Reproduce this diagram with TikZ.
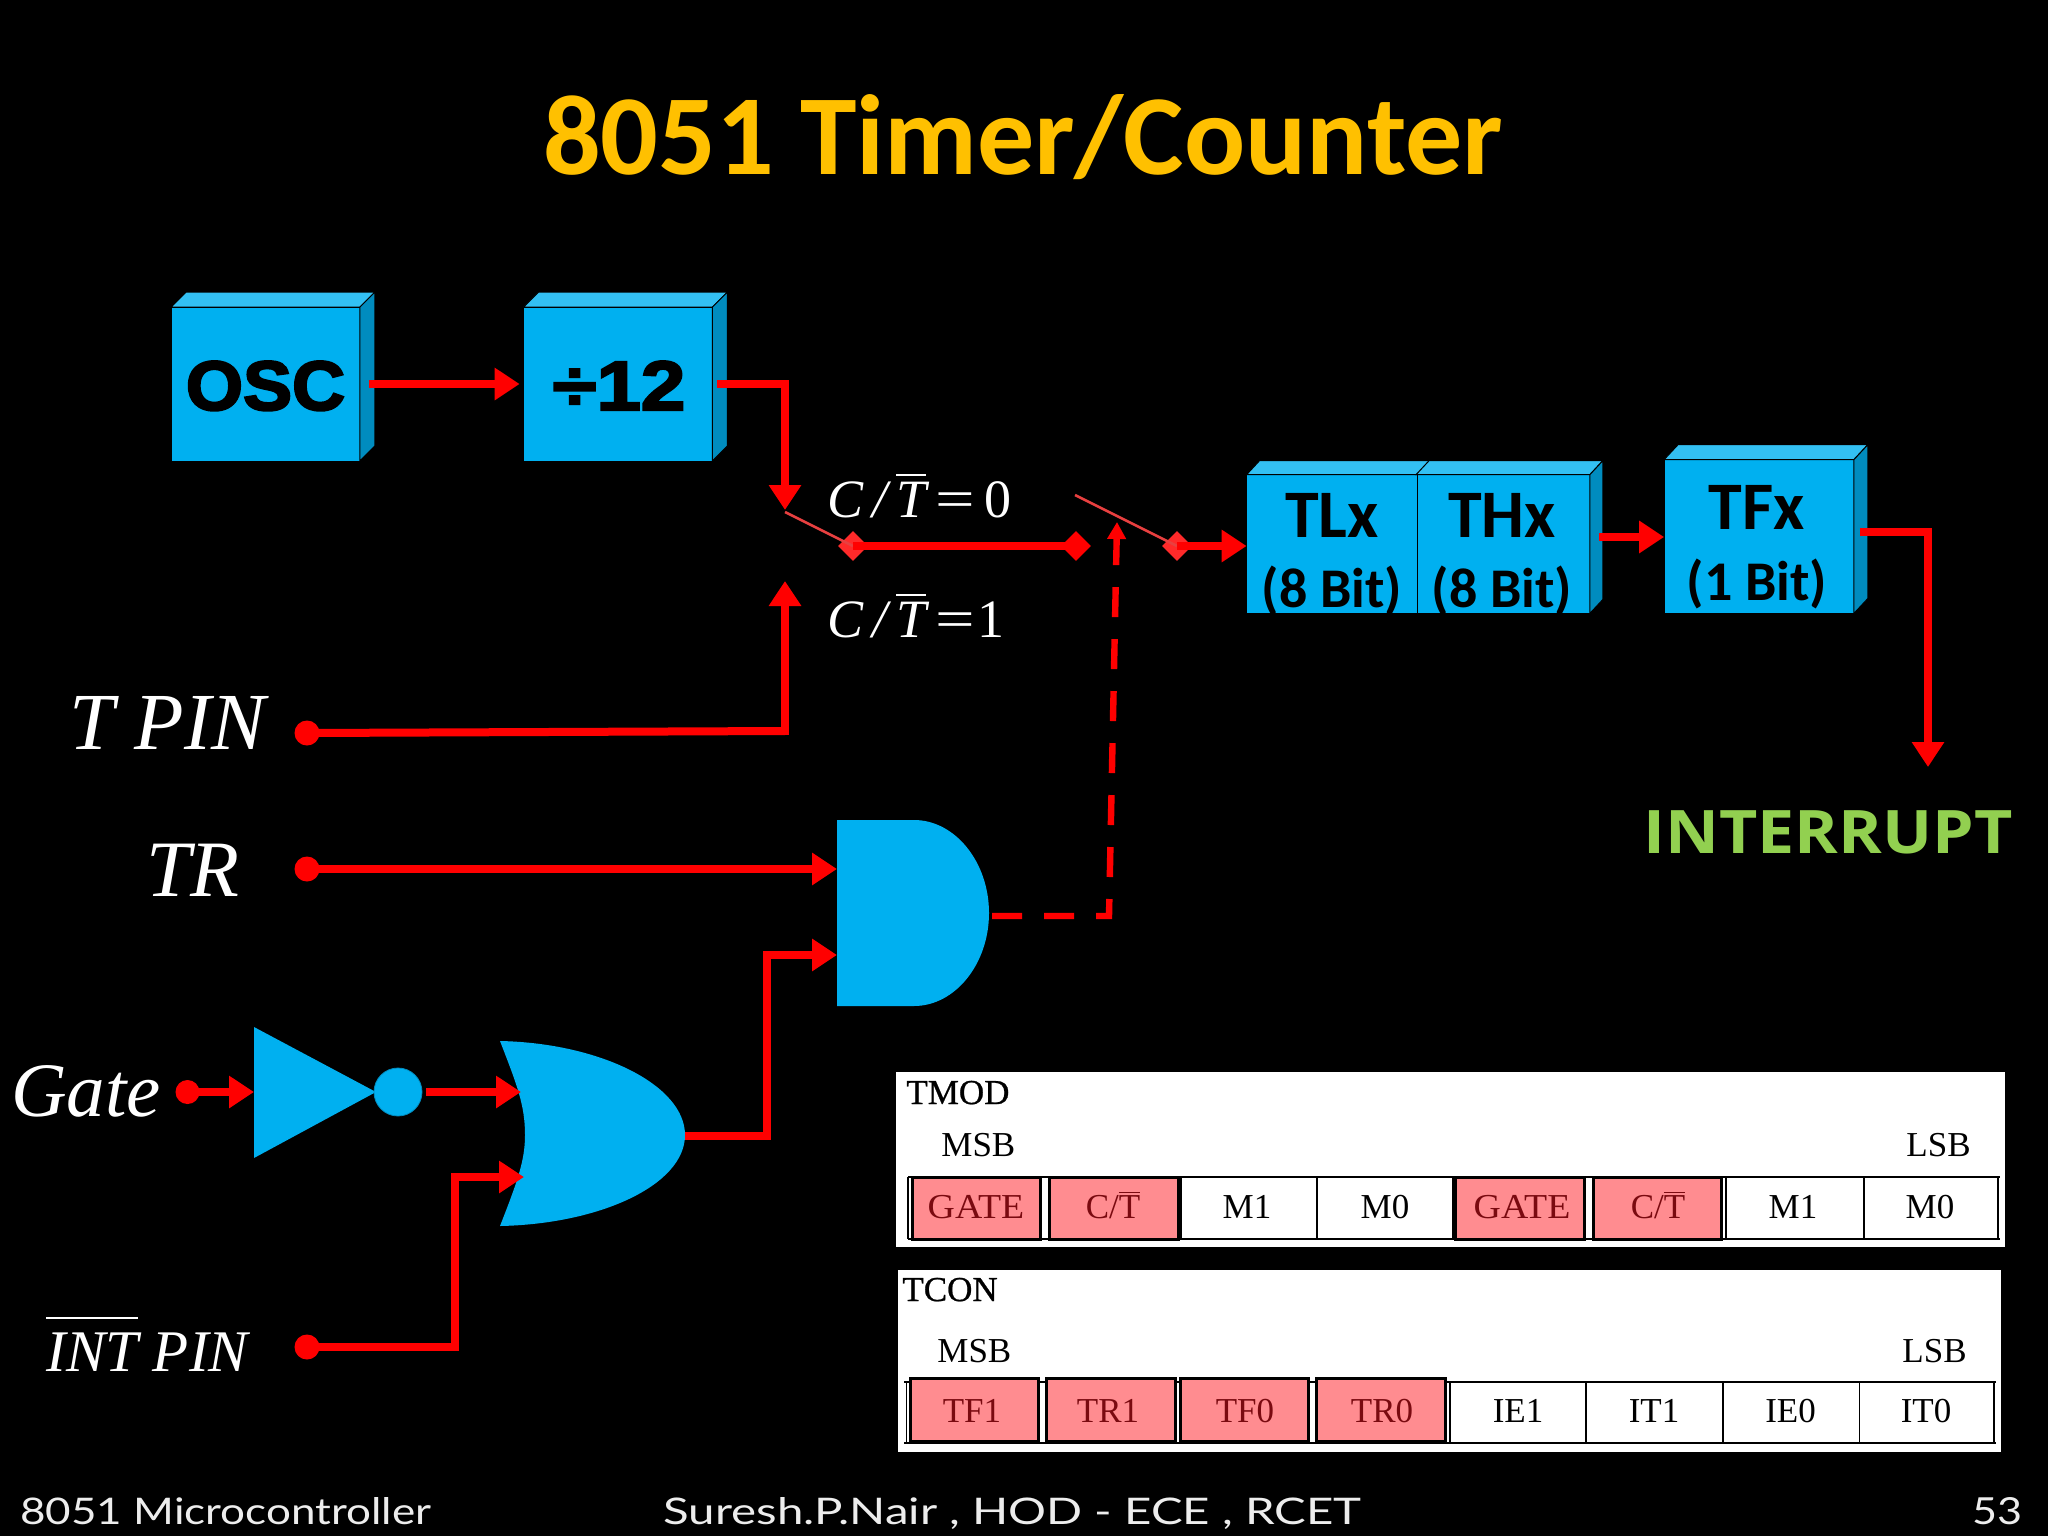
\documentclass[tikz,border=0pt]{standalone}
\usepackage{fontspec}
\usepackage{graphicx}
\setmainfont{Liberation Serif}
\newfontfamily\carl{Carlito}[BoldFont=Carlito Bold]
\newfontfamily\heavy{Liberation Sans Bold}[FakeBold=3]
\newfontfamily\opens{Open Sans}
\newfontfamily\foot{Lato}
\newfontfamily\regheavy{Liberation Serif}[FakeBold=0.7]
\usetikzlibrary{arrows.meta,shapes.geometric,calc}
\definecolor{boxblue}{HTML}{00B0F0}
\definecolor{boxtop}{HTML}{33C0F3}
\definecolor{boxside}{HTML}{008CBF}
\definecolor{wirered}{HTML}{FF0000}
\definecolor{swline}{HTML}{E84040}
\definecolor{swdot}{HTML}{FF2A2A}
\definecolor{cellred}{HTML}{FF8C90}
\definecolor{celltext}{HTML}{7A0A10}
\definecolor{titlegold}{HTML}{FFC000}
\definecolor{intgreen}{HTML}{92D050}
\newcommand{\ovr}[3]{\mbox{\vbox{\hrule height #2\kern #3\hbox{#1}}}}
\newcommand{\cellbox}[5]{\draw[#5] (#1,#3) rectangle (#2,#4);}
\newcommand{\wideeq}{{\upshape\scalebox{1.3}[1]{=}}}
\tikzset{
  x=0.5pt,y=-0.5pt,
  blockface/.style={rectangle,fill=boxblue,inner sep=0pt,draw=none},
  edge3d/.style={draw=black,line width=0.5pt},
  wire/.style={draw=wirered,line width=4pt,line join=miter},
  arrowwire/.style={wire,-{Triangle[length=12.5pt,width=15.5pt]}},
  swthin/.style={draw=swline,line width=1.3pt},
  pindot/.style={circle,fill=wirered,inner sep=0pt,minimum size=12.5pt},
  contact/.style={diamond,fill=#1,inner sep=0pt,minimum width=15pt,minimum height=15pt},
  txt/.style={inner sep=0pt,anchor=base west,text=white},
  pinlabel/.style={txt,font=\itshape\fontsize{40}{40}\selectfont},
  eqlabel/.style={txt,font=\itshape\fontsize{27}{27}\selectfont},
  blocktxt/.style={inner sep=0pt,anchor=base,text=black,font=\carl\bfseries\fontsize{34}{34}\selectfont},
  bittxt/.style={inner sep=0pt,anchor=base,text=black,font=\carl\bfseries\fontsize{28}{28}\selectfont},
  regtxt/.style={inner sep=0pt,anchor=base,text=black,font=\fontsize{17.5}{18}\selectfont},
  regred/.style={regtxt,text=celltext},
  reghead/.style={inner sep=0pt,anchor=base west,text=black,font=\fontsize{17.5}{18}\selectfont},
  footer/.style={inner sep=0pt,anchor=base west,text=white!93!black,font=\foot\fontsize{17}{17}\selectfont},
  regline/.style={draw=black,line width=0.7pt},
  redcell/.style={draw=black,line width=1.5pt,fill=cellred}
}
\begin{document}
\begin{tikzpicture}
\path[use as bounding box,fill=black] (0,0) rectangle (2048,1536);

% Title
\node[inner sep=0pt,anchor=base,text=titlegold,font=\carl\bfseries\fontsize{57}{57}\selectfont] (title) at (1023,174) {8051 Timer/Counter};

% 3D blocks
\node[blockface,minimum width=94pt,minimum height=76.5pt] (osc) at (265.5,384) {};
\node[blockface,minimum width=94pt,minimum height=76.5pt] (div) at (618,384) {};
\node[blockface,minimum width=85pt,minimum height=69pt] (tlx) at (1332,544) {};
\node[blockface,minimum width=86.5pt,minimum height=69pt] (thx) at (1503,544) {};
\node[blockface,minimum width=94.5pt,minimum height=76.5pt] (tfx) at (1759,536.5) {};
\foreach \b/\dx/\dy in {osc/15/15,div/15/15,tfx/14/15}{
  \fill[boxtop,edge3d] (\b.north west) -- ++(\dx,-\dy) -- ($(\b.north east)+(\dx,-\dy)$) -- (\b.north east) -- cycle;
  \fill[boxside,edge3d] (\b.north east) -- ++(\dx,-\dy) -- ($(\b.south east)+(\dx,-\dy)$) -- (\b.south east) -- cycle;
  \draw[edge3d] (\b.north west) -- (\b.north east);
}
\fill[boxtop,edge3d] (tlx.north west) -- ++(13,-14) -- ($(tlx.north east)+(13,-14)$) -- (tlx.north east) -- cycle;
\fill[boxtop,edge3d] (thx.north west) -- ++(13,-14) -- ($(thx.north east)+(13,-14)$) -- (thx.north east) -- cycle;
\fill[boxside,edge3d] (thx.north east) -- ++(13,-14) -- ($(thx.south east)+(13,-14)$) -- (thx.south east) -- cycle;
\draw[edge3d] (tlx.north west) -- (thx.north east);
\draw[edge3d] (tlx.north east) -- (tlx.south east);

\node[inner sep=0pt,anchor=base,text=black,font=\heavy\fontsize{35}{35}\selectfont] (osctxt) at (265.5,410) {\scalebox{1.05}[1]{OSC}};
\node[inner sep=0pt,anchor=base,text=black,font=\heavy\fontsize{35}{35}\selectfont] (divtxt) at (619,410) {\scalebox{1.14}[1]{÷12}};
\node[blocktxt] (tltxt) at (1332,537) {TLx};
\node[blocktxt] (thtxt) at (1502,537) {THx};
\node[blocktxt] (tftxt) at (1757,529) {TFx};
\node[bittxt] (tlbit) at (1332,607) {(8 Bit)};
\node[bittxt] (thbit) at (1502,607) {(8 Bit)};
\node[bittxt] (tfbit) at (1757,600) {(1 Bit)};
% trim what hangs below the blocks
\fill[black] (1240,613.5) rectangle (1612,640);

% Switch contacts and switch labels
\node[contact=swdot] (d1) at (853,546) {};
\node[contact=wirered] (d2) at (1076,546) {};
\node[contact=swdot] (d3) at (1177,546) {};
\coordinate (swtopl) at (785,512);
\coordinate (swtopr) at (1075,495);
\coordinate (intop) at (785,510);
\coordinate (inbot) at (785,581);
\node[eqlabel] (eq0) at (827,517) {C\,/\,\ovr{T}{1pt}{3pt}\,\wideeq\,{\upshape 0}};
\node[eqlabel] (eq1) at (827,637) {C\,/\,\ovr{T}{1pt}{3pt}\,\wideeq\kern 1pt{\upshape 1}};

% Gates
\fill[boxblue] (837,820) -- (914,820) .. controls (955,820) and (989,862) .. (989,913) .. controls (989,964) and (955,1006) .. (914,1006) -- (837,1006) -- cycle;
\fill[boxblue] (500,1041) .. controls (600,1043) and (685,1085) .. (685,1135) .. controls (685,1185) and (600,1224) .. (500,1226) .. controls (518,1180) and (525,1160) .. (525,1135) .. controls (525,1105) and (517,1085) .. (500,1041) -- cycle;
\fill[boxblue] (254,1027) -- (376,1092) -- (254,1158) -- cycle;
\node[circle,fill=boxblue,draw=boxside,line width=0.4pt,inner sep=0pt,minimum size=24pt] (bubble) at (398,1092) {};
\coordinate (andout) at (992,916);
\coordinate (andin1) at (837,869);
\coordinate (andin2) at (837,955);
\coordinate (orout) at (685,1136);
\coordinate (orin1) at (521,1092);
\coordinate (orin2) at (524,1177);
\coordinate (invin) at (254,1092);

% Pins
\node[pindot,minimum size=12pt] (gatepin) at (187.5,1092) {};
\node[pindot] (tpin) at (307,733) {};
\node[pindot] (trpin) at (307,869) {};
\node[pindot] (intpin) at (307,1347) {};
\node[pinlabel,font=\itshape\fontsize{40.5}{41}\selectfont] (tlab) at (69,749) {T PIN};
\node[pinlabel] (trlab) at (146,896) {TR};
\node[pinlabel,font=\itshape\fontsize{38.5}{39}\selectfont] (gatelab) at (11,1116) {Gate};
\node[pinlabel,font=\itshape\fontsize{29.5}{30}\selectfont] (intlab) at (46,1371) {\ovr{INT}{1pt}{6.5pt} PIN};

% Connectors
\draw[arrowwire,shorten <=4.5pt,shorten >=2pt] (osc.east) -- (div.west);
\draw[arrowwire] ($(div.east)+(5,0)$) -| (intop);
\draw[swthin] (swtopl) -- (d1.center);
\draw[wire] (d1.center) -- (d2.center);
\draw[swthin] (swtopr) -- (d3.center);
\draw[arrowwire] (d3.center) -- (tlx.west |- d3.center);
\draw[wire] (tpin.center) -- (inbot |- 0,731) coordinate (tcorner);
\draw[arrowwire] ($(tcorner)+(0,4)$) -- (inbot);
\draw[arrowwire] (trpin.center) -- (andin1);
\draw[arrowwire] (gatepin.center) -- (invin);
\draw[arrowwire] (bubble.east) ++(4,0) -- (orin1);
\draw[arrowwire] (intpin.center) -| (455,1177) -- (orin2);
\draw[arrowwire] (orout) -| (767,955) -- (andin2);
\draw[wirered,line width=3.2pt,dash pattern=on 15pt off 11pt,-{Triangle[length=8.5pt,width=9pt]}] (andout) -- (1109,916) -- (1117,522);
\draw[arrowwire] ($(thx.east)+(9,-7)$) -- (tfx.west |- 0,537);
\coordinate (intend) at (1928,767);
\draw[arrowwire] ($(tfx.east)+(6,-4.5)$) -| (intend);
\node[inner sep=0pt,anchor=base west,text=intgreen,font=\opens\bfseries\fontsize{30}{30}\selectfont] (irq) at (1643,853) {\scalebox{1.105}[1]{INTERRUPT}};

% TMOD panel
\fill[white] (895.5,1072) rectangle (2005,1247);
\node[reghead,font=\regheavy\fontsize{17.5}{18}\selectfont] (tmod) at (906,1104) {TMOD};
\node[reghead] (m1) at (941,1156) {MSB};
\node[reghead] (l1) at (1906,1156) {LSB};
\draw[regline] (908,1177) -- (2000,1177);
\draw[regline] (908,1239) -- (2000,1239);
\foreach \x in {908,1181,1317,1453,1726,1864,1998}{\draw[regline] (\x,1177) -- (\x,1239);}
\cellbox{912}{1040}{1177}{1239}{redcell}
\cellbox{1049}{1178}{1177}{1239}{redcell}
\cellbox{1455}{1584}{1177}{1239}{redcell}
\cellbox{1593}{1721.5}{1177}{1239}{redcell}
\foreach \x/\n in {976/a,1522/b}{\node[regred] (g\n) at (\x,1218) {\scalebox{1.08}[1]{GATE}};}
\foreach \x/\n in {1113/a,1658/b}{\node[regred] (c\n) at (\x,1218) {C/\ovr{T}{0.8pt}{1pt}};}
\foreach \x/\t/\n in {1247/M1/a,1385/M0/b,1793/M1/c,1930/M0/d}{\node[regtxt] (m\n) at (\x,1218) {\t};}

% TCON panel
\fill[white] (898,1270) rectangle (2001,1452);
\node[reghead,font=\regheavy\fontsize{17.5}{18}\selectfont] (tcon) at (902,1301) {TCON};
\node[reghead] (m2) at (937,1362) {MSB};
\node[reghead] (l2) at (1902,1362) {LSB};
\draw[regline] (904,1382) -- (1996,1382);
\draw[regline] (904,1443) -- (1996,1443);
\foreach \x in {906.5,1450,1586,1723,1859.5,1994}{\draw[regline] (\x,1382) -- (\x,1443);}
\cellbox{910}{1038}{1378}{1441}{redcell}
\cellbox{1046.5}{1175}{1378}{1441}{redcell}
\cellbox{1180}{1308}{1378}{1441}{redcell}
\cellbox{1316}{1445}{1378}{1441}{redcell}
\foreach \x/\t/\n in {972/TF1/e,1108/TR1/f,1245/TF0/g,1382/TR0/h}{\node[regred] (t\n) at (\x,1422) {\t};}
\foreach \x/\t/\n in {1518/IE1/i,1654/IT1/j,1790.5/IE0/k,1926/IT0/l}{\node[regtxt] (t\n) at (\x,1422) {\t};}

% Footer
\node[footer] (f1) at (20,1524) {\resizebox{205.5pt}{13.5pt}{8051 Microcontroller}};
\node[footer] (f2) at (663,1524) {\resizebox{349pt}{13.5pt}{Suresh.P.Nair , HOD - ECE , RCET}};
\node[footer] (f3) at (1972,1524) {\resizebox{25pt}{13.5pt}{53}};
\end{tikzpicture}
\end{document}
